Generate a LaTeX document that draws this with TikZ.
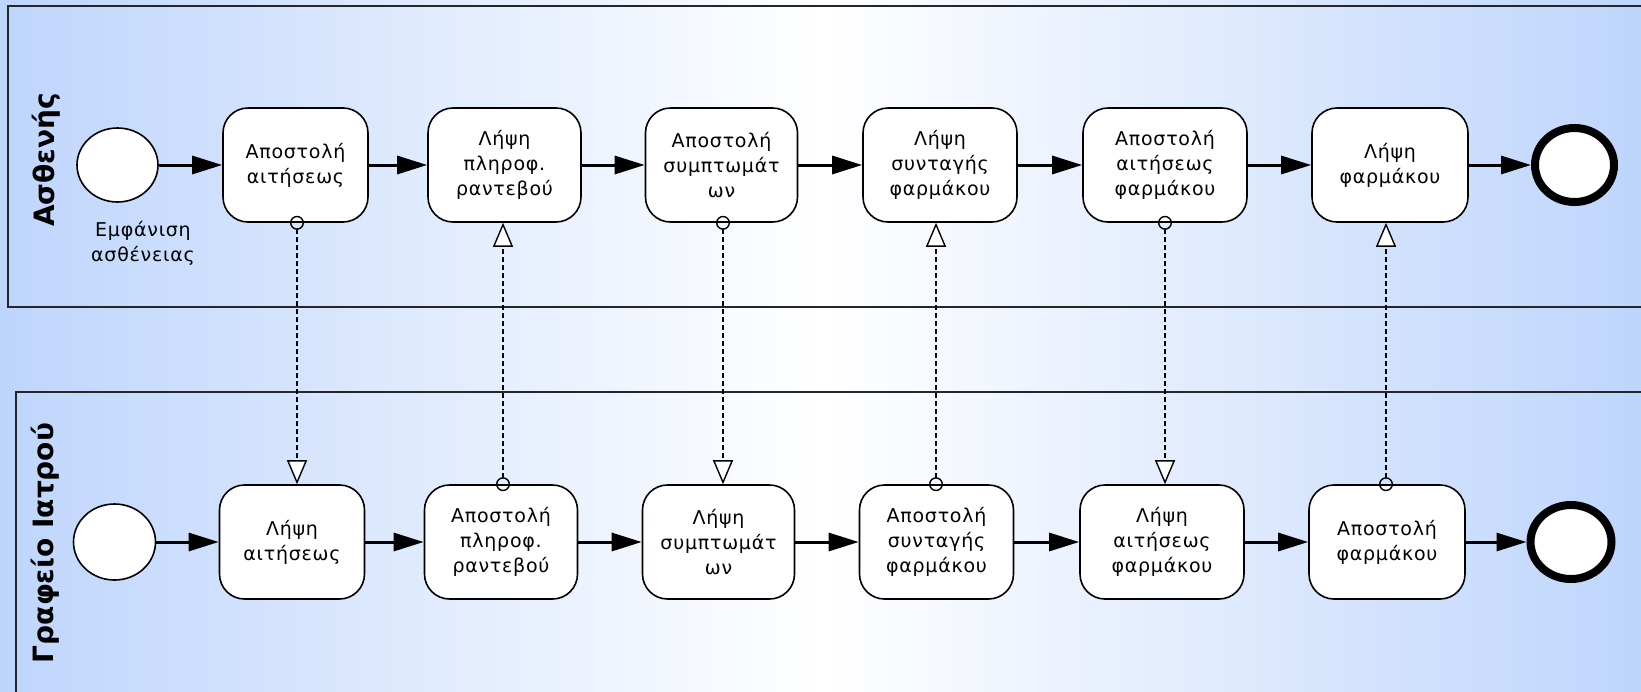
\documentclass[tikz,border=0pt]{standalone}
\usepackage{fontspec}
\setmainfont{DejaVu Sans}
\newfontfamily\taskfont[LetterSpace=4]{DejaVu Sans}
\newfontfamily\lanefont{DejaVu Sans}
\usetikzlibrary{arrows.meta,shapes.geometric}
\definecolor{bgblue}{RGB}{190,213,252}

\begin{document}
\begin{tikzpicture}[x=1pt,y=-1pt,
  task/.style={draw=black, line width=1.6pt, fill=white, rounded corners=25pt,
    minimum height=114pt, inner sep=0pt, align=center,
    font=\taskfont\fontsize{19}{25}\selectfont},
  startev/.style={ellipse, draw=black, line width=1.6pt, fill=white, inner sep=0pt},
  endev/.style={ellipse, draw=black, line width=8pt, fill=white, inner sep=0pt},
  seq/.style={line width=3pt, -{Triangle[length=30pt,width=18pt]}},
  msg/.style={line width=1.6pt, dash pattern=on 5pt off 3pt, shorten <=-7pt,
    {Circle[open,length=14pt,width=14pt,line width=1.4pt]}-{Triangle[open,length=24pt,width=20pt,fill=white,line width=1.4pt]}},
  pool/.style={draw=black!85, line width=1.6pt},
  lanelbl/.style={rotate=90, font=\lanefont\bfseries\fontsize{28}{30}\selectfont},
  evlbl/.style={align=center, font=\taskfont\fontsize{19}{25}\selectfont}
]
\useasboundingbox (0,0) rectangle (1641,691);
% background
\shade[left color=bgblue, right color=bgblue, middle color=white] (0,0) rectangle (1641,691);

% pools
\draw[pool] (1645,6) -- (8,6) -- (8,307) -- (1645,307);
\draw[pool] (1645,392) -- (16,392) -- (16,695);
\node[lanelbl] (lanep) at (46,160) {Ασθενής};
\node[lanelbl] (laned) at (45,543) {Γραφείο Ιατρού};

% patient lane
\node[startev, minimum width=81pt, minimum height=74pt] (ps) at (117.5,165) {};
\node[evlbl] (pslbl) at (143,243) {Εμφάνιση\\ασθένειας};
\node[task, minimum width=145pt] (t1) at (295.5,165) {Αποστολή\\αιτήσεως};
\node[task, minimum width=153pt] (t2) at (504.5,165) {Λήψη\\πληροφ.\\ραντεβού};
\node[task, minimum width=152pt] (t3) at (721.5,165) {Αποστολή\\συμπτωμάτ\\ων};
\node[task, minimum width=154pt] (t4) at (940,165) {Λήψη\\συνταγής\\φαρμάκου};
\node[task, minimum width=164pt] (t5) at (1165,165) {Αποστολή\\αιτήσεως\\φαρμάκου};
\node[task, minimum width=156pt] (t6) at (1390,165) {Λήψη\\φαρμάκου};
\node[endev, minimum width=79pt, minimum height=74pt] (pe) at (1574.5,165) {};

% doctor's office lane
\node[startev, minimum width=82pt, minimum height=76pt] (ds) at (114.5,542) {};
\node[task, minimum width=145pt] (b1) at (292,542) {Λήψη\\αιτήσεως};
\node[task, minimum width=153pt] (b2) at (501,542) {Αποστολή\\πληροφ.\\ραντεβού};
\node[task, minimum width=152pt] (b3) at (718.5,542) {Λήψη\\συμπτωμάτ\\ων};
\node[task, minimum width=154pt] (b4) at (936.5,542) {Αποστολή\\συνταγής\\φαρμάκου};
\node[task, minimum width=164pt] (b5) at (1162,542) {Λήψη\\αιτήσεως\\φαρμάκου};
\node[task, minimum width=156pt] (b6) at (1387,542) {Αποστολή\\φαρμάκου};
\node[endev, minimum width=81pt, minimum height=74pt] (de) at (1571,542) {};

% sequence flows
\draw[seq] (ps) -- (t1);
\draw[seq] (t1) -- (t2);
\draw[seq] (t2) -- (t3);
\draw[seq] (t3) -- (t4);
\draw[seq] (t4) -- (t5);
\draw[seq] (t5) -- (t6);
\draw[seq] (t6) -- (pe);
\draw[seq] (ds) -- (b1);
\draw[seq] (b1) -- (b2);
\draw[seq] (b2) -- (b3);
\draw[seq] (b3) -- (b4);
\draw[seq] (b4) -- (b5);
\draw[seq] (b5) -- (b6);
\draw[seq] (b6) -- (de);

% message flows
\coordinate (m1) at (297,350);
\coordinate (m2) at (503,350);
\coordinate (m3) at (723,350);
\coordinate (m4) at (936,350);
\coordinate (m5) at (1165,350);
\coordinate (m6) at (1386,350);
\draw[msg] (t1.south -| m1) -- (b1.north -| m1);
\draw[msg] (b2.north -| m2) -- (t2.south -| m2);
\draw[msg] (t3.south -| m3) -- (b3.north -| m3);
\draw[msg] (b4.north -| m4) -- (t4.south -| m4);
\draw[msg] (t5.south -| m5) -- (b5.north -| m5);
\draw[msg] (b6.north -| m6) -- (t6.south -| m6);
\end{tikzpicture}
\end{document}
